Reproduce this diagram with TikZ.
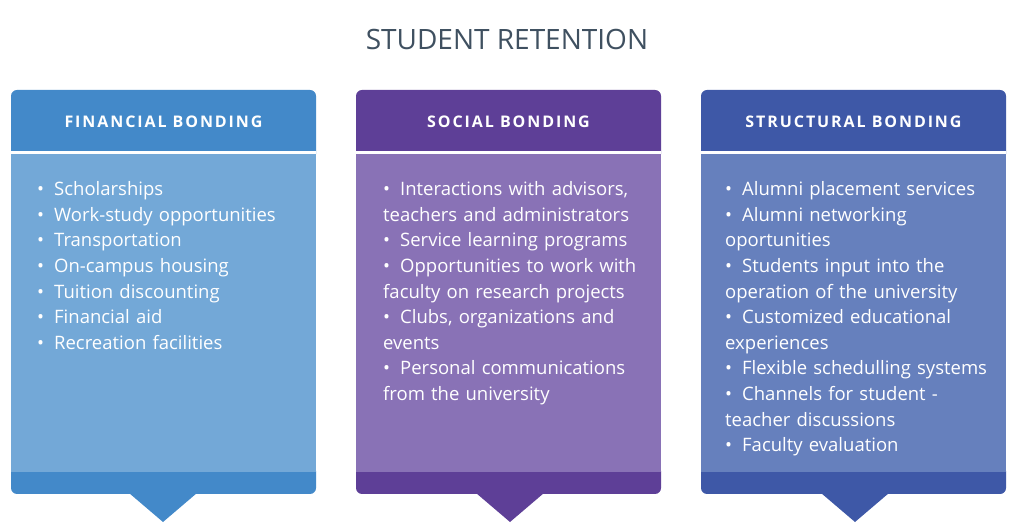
\documentclass[tikz,border=0pt]{standalone}
\usepackage{fontspec}
\setmainfont{Open Sans}
\definecolor{fh}{HTML}{4389C9}\definecolor{fb}{HTML}{73A8D7}
\definecolor{sh}{HTML}{5E3F97}\definecolor{sb}{HTML}{8972B6}
\definecolor{th}{HTML}{3E58A7}\definecolor{tb}{HTML}{6680BD}
\definecolor{titlec}{HTML}{3F5060}
\newcommand\itm[1]{\par\hangindent=17pt\hangafter=1\noindent\makebox[17pt][l]{\textbullet}#1}
\tikzset{hdr/.style={text=white,font=\bfseries\fontsize{16}{18}\selectfont\addfontfeature{LetterSpace=12}},
lst/.style={text=white,anchor=north west,text width=270pt,inner sep=0pt,align=left,font=\fontsize{18.5}{25.6}\selectfont}}
\newcommand\card[6]{%
 \fill[#3,rounded corners=6pt] (#1,530-90) rectangle (#1+305,530-160);
 \fill[#4] (#1,530-154) rectangle (#1+305,530-472);
 \fill[#3,rounded corners=6pt] (#1,530-465) rectangle (#1+305,530-494);
 \fill[#3] (#1,530-465) rectangle (#1+305,530-480);
 \fill[#3] (#1+#2-34,530-493) -- (#1+#2,530-522) -- (#1+#2+34,530-493) -- cycle;
 \fill[#4] (#1,530-154) rectangle (#1+305,530-472);
 \fill[white] (#1,530-151) rectangle (#1+305,530-154);
 \node[hdr] (#6h) at (#1+152.5,530-122) {#5};
}
\begin{document}
\begin{tikzpicture}[x=1pt,y=1pt]
\useasboundingbox (0,0) rectangle (1025,530);
\node[text=titlec,font=\fontsize{28}{32}\selectfont] (title) at (507,530-39) {STUDENT RETENTION};
\card{11}{152}{fh}{fb}{FINANCIAL BONDING}{a}
\card{356}{154}{sh}{sb}{SOCIAL BONDING}{b}
\card{701}{154}{th}{tb}{STRUCTURAL BONDING}{c}
\node[lst] (la) at (37,530-170) {\itm{Scholarships}\itm{Work-study opportunities}\itm{Transportation}\itm{On-campus housing}\itm{Tuition discounting}\itm{Financial aid}\itm{Recreation facilities}};
\node[lst] (lb) at (383,530-170) {\itm{Interactions with advisors,\\teachers and administrators}\itm{Service learning programs}\itm{Opportunities to work with\\faculty on research projects}\itm{Clubs, organizations and\\events}\itm{Personal communications\\from the university}};
\node[lst] (lc) at (725,530-170) {\itm{Alumni placement services}\itm{Alumni networking\\oportunities}\itm{Students input into the\\operation of the university}\itm{Customized educational\\experiences}\itm{Flexible schedulling systems}\itm{Channels for student -\\teacher discussions}\itm{Faculty evaluation}};
\end{tikzpicture}
\end{document}
